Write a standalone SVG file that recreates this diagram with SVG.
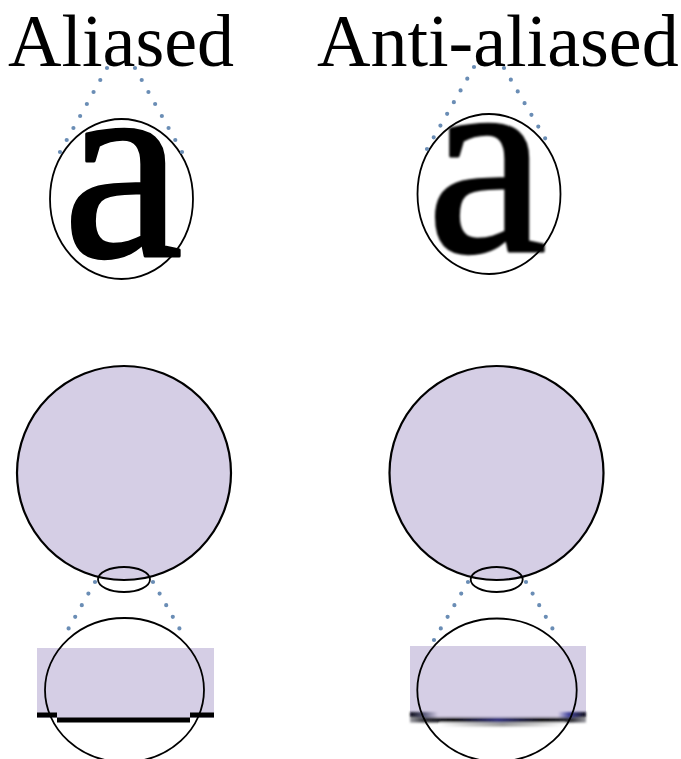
<svg xmlns="http://www.w3.org/2000/svg" width="681" height="759" viewBox="0 0 681 759">
<defs>
<style>
.lbl{font-family:"Liberation Serif","Times New Roman",serif;font-size:74px;fill:#000}
.glyph{font-family:"Liberation Serif","Times New Roman",serif;font-size:270px;fill:#000;stroke:#000;stroke-width:3;stroke-linejoin:round}
.dots{fill:none;stroke:#6a8db5;stroke-width:4.2;stroke-linecap:round}
.ring{fill:none;stroke:#000;stroke-width:1.8}
.disc{fill:#d5cee5;stroke:#000;stroke-width:2.2}
.fill{fill:#d5cee5}
</style>
<filter id="soft" x="-10%" y="-10%" width="120%" height="120%"><feGaussianBlur stdDeviation="1.1"/></filter>
<filter id="blur2" x="-10%" y="-100%" width="120%" height="300%"><feGaussianBlur stdDeviation="1"/></filter>
<linearGradient id="row1" x1="0" x2="1" y1="0" y2="0">
<stop offset="0" stop-color="#10101c"/><stop offset="0.08" stop-color="#5a5a7a"/><stop offset="0.16" stop-color="#d5cee5"/><stop offset="0.84" stop-color="#d5cee5"/><stop offset="0.9" stop-color="#4848a0"/><stop offset="1" stop-color="#10101c"/>
</linearGradient>
<linearGradient id="row2" x1="0" x2="1" y1="0" y2="0">
<stop offset="0" stop-color="#9a9aa0"/><stop offset="0.08" stop-color="#303038"/><stop offset="0.25" stop-color="#08080e"/><stop offset="0.5" stop-color="#34347e"/><stop offset="0.75" stop-color="#08080e"/><stop offset="0.92" stop-color="#303038"/><stop offset="1" stop-color="#9a9aa0"/>
</linearGradient>
<linearGradient id="row3" x1="0" x2="1" y1="0" y2="0">
<stop offset="0" stop-color="#fff"/><stop offset="0.25" stop-color="#c8c8c8"/><stop offset="0.5" stop-color="#999"/><stop offset="0.75" stop-color="#c8c8c8"/><stop offset="1" stop-color="#fff"/>
</linearGradient>
</defs>
<rect width="681" height="759" fill="#fff"/>

<g id="aliased-top">
<text class="lbl" x="8" y="66">Aliased</text>
<text class="glyph" x="63" y="256">a</text>
<ellipse class="ring" cx="121.5" cy="199" rx="71.5" ry="80"/>
</g>

<g id="antialiased-top">
<text class="lbl" x="317" y="66">Anti-aliased</text>
<g filter="url(#soft)"><text class="glyph" x="427" y="251">a</text></g>
<ellipse class="ring" cx="489" cy="194" rx="71.5" ry="80"/>
</g>

<g id="aliased-bottom">
<circle class="disc" cx="124" cy="473" r="107"/>
<ellipse class="ring" cx="124" cy="579.5" rx="26" ry="12.5"/>
<rect class="fill" x="37" y="648" width="177" height="70"/>
<rect x="37" y="712.5" width="20" height="5" fill="#000"/>
<rect x="57" y="717.5" width="133" height="5" fill="#000"/>
<rect x="190" y="712.5" width="24" height="5" fill="#000"/>
<ellipse class="ring" cx="124.5" cy="690" rx="79.5" ry="72" stroke-width="2.2"/>
</g>

<g id="antialiased-bottom">
<circle class="disc" cx="496.5" cy="473" r="107"/>
<ellipse class="ring" cx="496.7" cy="579.5" rx="26" ry="12.5"/>
<rect class="fill" x="410" y="646" width="176" height="71"/>
<g filter="url(#blur2)">
<rect x="410" y="712" width="176" height="5.5" fill="url(#row1)"/>
<rect x="410" y="717.5" width="176" height="5" fill="url(#row2)"/>
<rect x="440" y="722.5" width="125" height="4" fill="url(#row3)"/>
</g>
<ellipse class="ring" cx="497" cy="690" rx="79.7" ry="71.5" stroke-width="2.2"/>
</g>

<g id="connectors">
<path class="dots" d="M107,68 L60,152" pathLength="7" stroke-dasharray="0 1"/>
<path class="dots" d="M135,68 L182,152" pathLength="7" stroke-dasharray="0 1"/>
<path class="dots" d="M474,67 L427,149" pathLength="7" stroke-dasharray="0 1"/>
<path class="dots" d="M504,68 L552,150" pathLength="7" stroke-dasharray="0 1"/>
<path class="dots" d="M95,582 L62,640" pathLength="5" stroke-dasharray="0 1"/>
<path class="dots" d="M153,582 L186,640" pathLength="5" stroke-dasharray="0 1"/>
<path class="dots" d="M468,582 L434,640" pathLength="5" stroke-dasharray="0 1"/>
<path class="dots" d="M526,582 L559,640" pathLength="5" stroke-dasharray="0 1"/>
</g>
</svg>
